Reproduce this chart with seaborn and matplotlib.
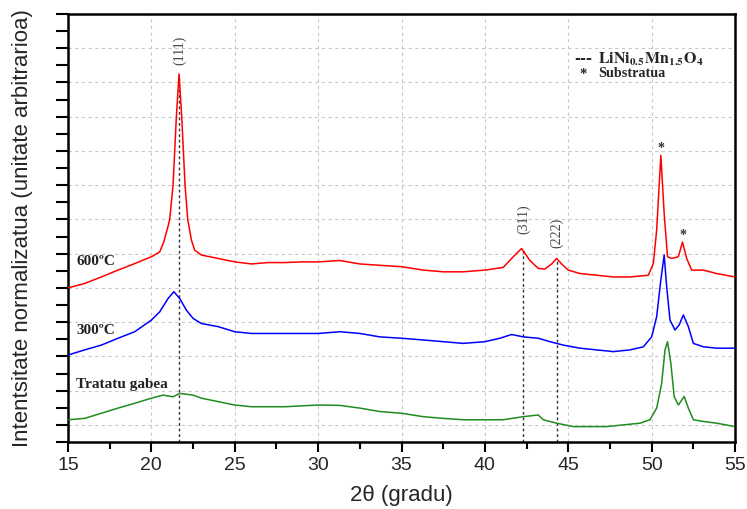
import pandas as pd
import matplotlib
matplotlib.use("Agg")
import matplotlib.pyplot as plt
import seaborn as sns

sns.set_theme(style="ticks")
plt.rcParams["font.family"] = ["Liberation Sans", "DejaVu Sans"]
plt.rcParams["mathtext.fontset"] = "stix"

# 2theta / intensity (offset, arbitrary units)
x_600 = [15.0, 16.0, 17.0, 18.0, 19.0, 20.0, 20.5, 20.75, 21.0, 21.1, 21.3, 21.4, 21.5,
         21.66, 21.82, 21.92, 22.02, 22.18, 22.4, 22.6, 23.0, 24.0, 25.0, 26.0, 27.0, 28.0,
         29.0, 30.0, 31.3, 32.5, 33.7, 35.0, 36.3, 37.5, 38.7, 40.0, 41.1, 41.7, 42.2, 42.7,
         43.2, 43.6, 44.0, 44.3, 44.6, 45.0, 45.7, 46.7, 47.7, 48.7, 49.8, 50.1, 50.3, 50.55,
         50.75, 50.95, 51.2, 51.6, 51.85, 52.1, 52.4, 53.1, 53.9, 55.0]
y_600 = [4.0, 4.13, 4.32, 4.52, 4.71, 4.91, 5.05, 5.35, 5.8, 6.0, 7.0, 8.0, 9.0,
         10.25, 9.0, 8.0, 7.0, 6.0, 5.4, 5.1, 4.96, 4.86, 4.76, 4.7, 4.74, 4.74,
         4.76, 4.76, 4.8, 4.7, 4.66, 4.62, 4.52, 4.47, 4.47, 4.52, 4.6, 4.91, 5.15, 4.8,
         4.57, 4.55, 4.7, 4.86, 4.7, 4.52, 4.42, 4.37, 4.32, 4.32, 4.37, 4.71, 5.69, 7.87,
         6.17, 4.91, 4.86, 4.91, 5.34, 4.86, 4.52, 4.52, 4.42, 4.32]

x_300 = [15.0, 16.0, 17.0, 18.0, 19.0, 20.0, 20.5, 21.0, 21.35, 21.7, 22.1, 22.5, 23.0,
         24.0, 25.0, 26.0, 27.0, 28.0, 30.0, 31.3, 32.5, 33.7, 35.0, 36.3, 37.5, 38.7,
         40.0, 40.9, 41.6, 42.3, 43.2, 43.9, 44.7, 45.7, 46.7, 47.7, 48.7, 49.5, 50.0,
         50.3, 50.55, 50.75, 50.9, 51.1, 51.4, 51.65, 51.9, 52.2, 52.5, 53.1, 53.9, 55.0]
y_300 = [2.04, 2.19, 2.33, 2.53, 2.72, 3.06, 3.3, 3.69, 3.89, 3.69, 3.35, 3.11, 2.96,
         2.87, 2.72, 2.67, 2.67, 2.67, 2.67, 2.72, 2.67, 2.57, 2.53, 2.48, 2.43, 2.38,
         2.43, 2.53, 2.64, 2.57, 2.53, 2.43, 2.33, 2.24, 2.19, 2.14, 2.19, 2.28, 2.57,
         3.16, 4.23, 4.96, 4.03, 3.06, 2.77, 2.92, 3.21, 2.87, 2.38, 2.28, 2.24, 2.24]

x_raw = [15.0, 16.0, 17.0, 18.0, 19.0, 20.0, 20.7, 21.3, 21.7, 22.5, 23.0, 24.0, 25.0,
         26.0, 27.0, 28.0, 30.0, 31.3, 32.5, 33.7, 35.0, 36.3, 37.5, 38.7, 40.0, 41.1,
         42.3, 43.2, 43.5, 44.3, 45.3, 46.3, 47.3, 48.3, 49.3, 49.9, 50.3, 50.6, 50.8,
         50.95, 51.15, 51.35, 51.6, 51.95, 52.2, 52.5, 53.1, 53.9, 55.0]
y_raw = [0.15, 0.19, 0.34, 0.49, 0.63, 0.78, 0.87, 0.82, 0.92, 0.87, 0.78, 0.68, 0.58,
         0.53, 0.53, 0.53, 0.58, 0.57, 0.49, 0.39, 0.34, 0.24, 0.19, 0.15, 0.15, 0.15,
         0.24, 0.29, 0.15, 0.05, -0.05, -0.05, -0.05, 0.0, 0.05, 0.15, 0.49, 1.21, 2.19,
         2.43, 1.8, 0.83, 0.58, 0.83, 0.49, 0.15, 0.1, 0.05, -0.05]

samples = ["600ºC", "300ºC", "Tratatu gabea"]
colors = ["#ff0000", "#0000ff", "#1f8c1f"]

# LiNi0.5Mn1.5O4 reflections and substrate peaks
hkl_labels = ["(111)", "(311)", "(222)"]
hkl_pos = [21.68, 42.3, 44.3]
hkl_top = [10.2, 5.1, 4.85]
sub_pos = [50.55, 51.9]
sub_y = [8.07, 5.54]

df = pd.concat([
    pd.DataFrame({"two_theta": x_600, "intensity": y_600, "sample": samples[0]}),
    pd.DataFrame({"two_theta": x_300, "intensity": y_300, "sample": samples[1]}),
    pd.DataFrame({"two_theta": x_raw, "intensity": y_raw, "sample": samples[2]}),
])

fig = plt.figure(figsize=(7.47, 5.09), dpi=100)
ax = fig.add_axes([0.091, 0.1316, 0.893, 0.841])

sns.lineplot(data=df, x="two_theta", y="intensity", hue="sample",
             palette=dict(zip(samples, colors)), linewidth=1.1, legend=False,
             ax=ax, zorder=3)

ax.vlines(hkl_pos, -0.5, hkl_top, colors="#333333", linestyles=(0, (2, 2)),
          linewidth=1.0, zorder=2)

for lab, xp, yp in zip(hkl_labels, hkl_pos, [10.93, 6.0, 5.6]):
    ax.text(xp, yp, lab, rotation=90, ha="center", va="center",
            fontsize=10, color="#444444", family=["Liberation Serif"])

for xp, yp in zip(sub_pos, sub_y):
    ax.text(xp, yp, "*", ha="center", va="center", fontsize=10,
            fontweight="bold", color="#333333", family=["Liberation Serif"])

# sample labels
for lab, yp in zip(samples, [4.76, 2.77, 1.17]):
    ax.text(15.5, yp, lab, ha="left", va="center", fontsize=11,
            fontweight="bold", color="#222222", family=["Liberation Serif"])

# key in the upper right
ax.text(45.35, 10.69, "‑‑‑", ha="left", va="center", fontsize=10.5,
        fontweight="bold", family=["DejaVu Sans"])
ax.text(46.8, 10.69, r"$\mathbf{LiNi_{0.5}Mn_{1.5}O_4}$", ha="left", va="center",
        fontsize=11.5)
ax.text(45.88, 10.22, "*", ha="center", va="center", fontsize=10.5,
        fontweight="bold", family=["Liberation Serif"])
ax.text(46.8, 10.25, "Substratua", ha="left", va="center", fontsize=10.2,
        fontweight="bold", family=["Liberation Serif"])

ax.set_xlim(15, 55)
ax.set_ylim(-0.5, 12)
ax.set_xticks(range(15, 56, 5))
ax.set_xticks([x + 2.5 for x in range(15, 55, 5)], minor=True)
ax.set_yticks(range(0, 13))
ax.set_yticks([y + 0.5 for y in range(-1, 12)], minor=True)
ax.set_yticklabels([])
ax.tick_params(axis="x", which="major", direction="out", length=7, width=1.5,
               labelsize=14, color="black", pad=4)
ax.tick_params(axis="x", which="minor", direction="out", length=5, width=1.5,
               color="black")
ax.tick_params(axis="y", which="both", direction="out", length=9, width=1.5,
               color="black")
ax.grid(True, which="major", color="#c8c8c8", linestyle=(0, (3, 3)), linewidth=0.8)
for side in ["left", "bottom", "right", "top"]:
    ax.spines[side].set_color("black")
    ax.spines[side].set_linewidth(1.8)

ax.set_xlabel("2θ (gradu)", fontsize=16, labelpad=8)
ax.set_ylabel("Intentsitate normalizatua (unitate arbitrarioa)", fontsize=16,
              labelpad=13)

fig.savefig("out.png", dpi=100)
